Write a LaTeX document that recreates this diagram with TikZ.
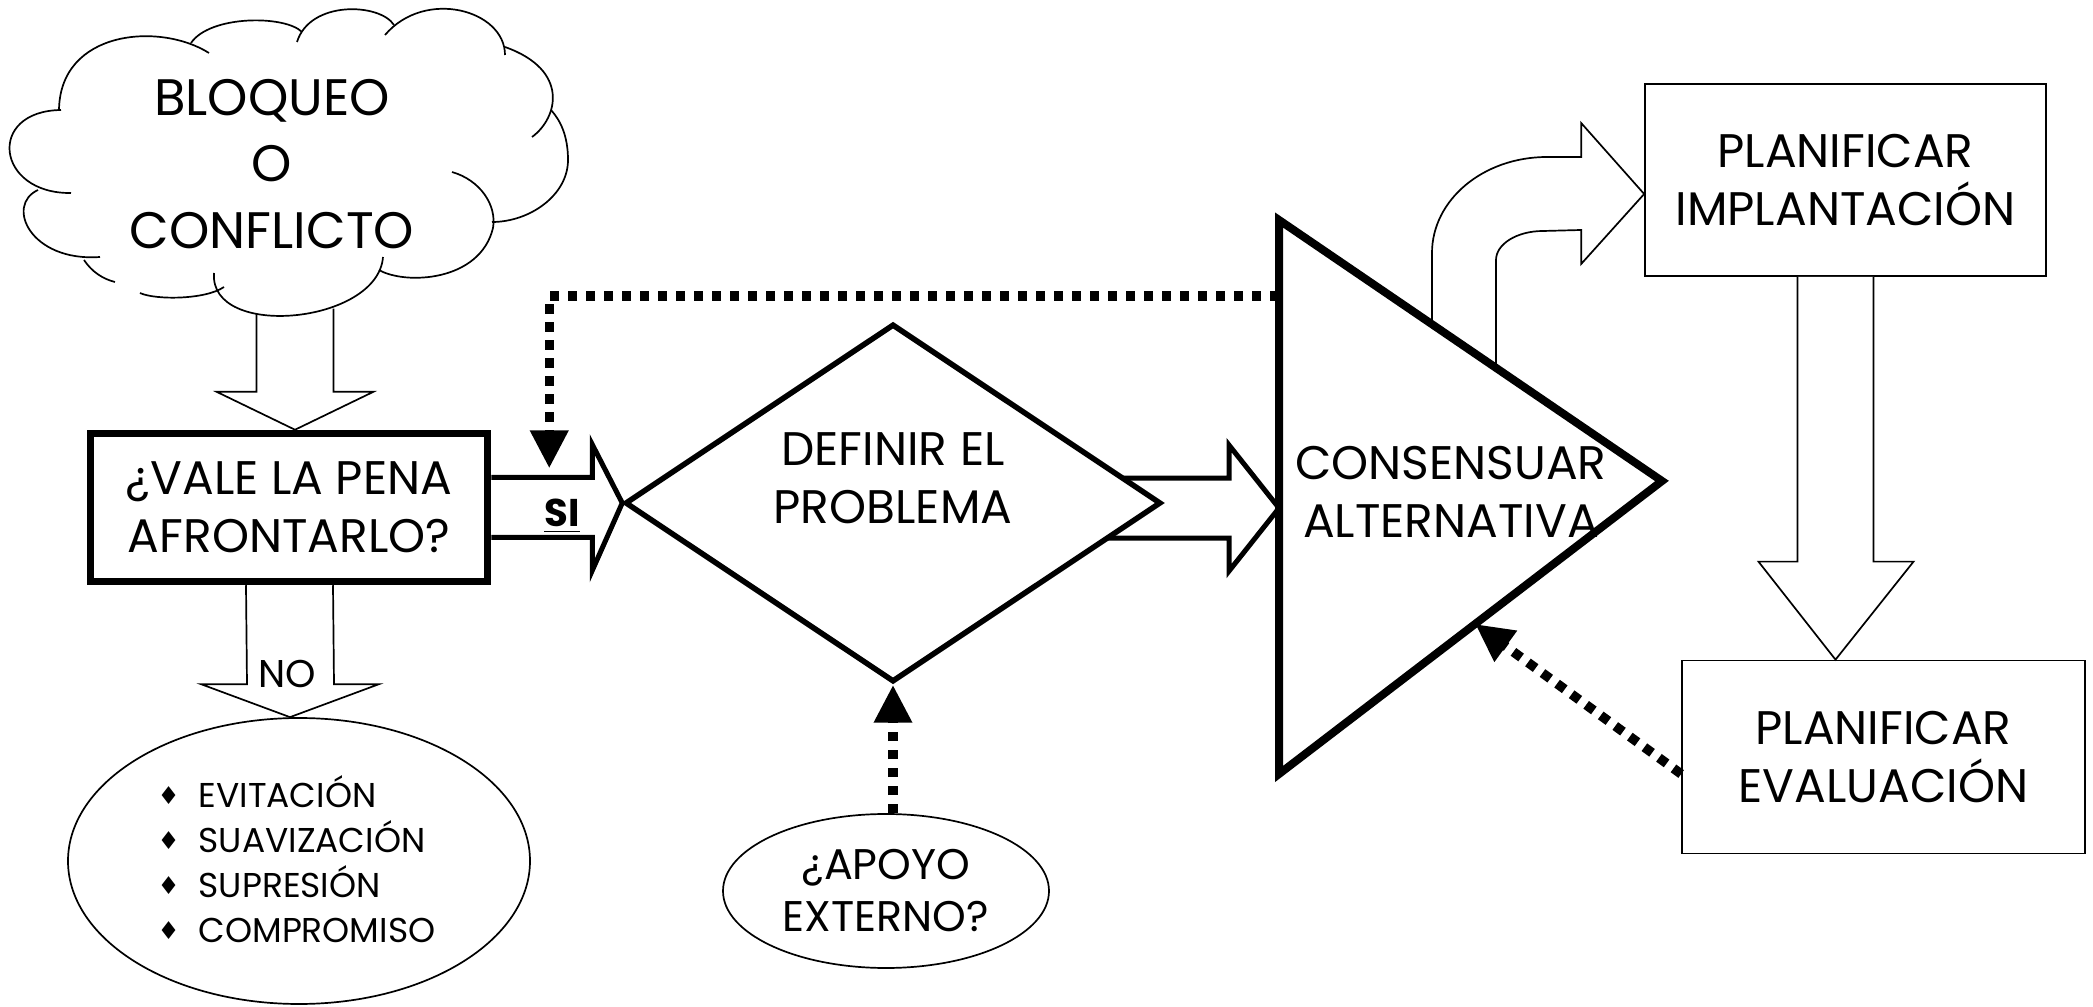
\documentclass[tikz,border=0pt]{standalone}
\usepackage{fontspec}
\setmainfont{Poppins}
\newfontfamily\symfont{DejaVu Sans}
\usetikzlibrary{shapes.geometric,arrows.meta,calc,backgrounds}
\newcommand\listbul{\makebox[4.1mm][l]{\raisebox{0.15ex}{\symfont\fontsize{7}{8}\selectfont ♦}}}
\begin{document}
\begin{tikzpicture}[x=0.1mm,y=-0.1mm,
  thinline/.style={line width=0.17mm},
  thickarrow/.style={line width=0.5mm, line join=miter},
  mainfont/.style={font=\fontsize{13.4}{16.4}\selectfont},
  plainbox/.style={draw, thinline, fill=white, inner sep=0, align=center, mainfont},
  dotarrow/.style={line width=0.95mm, dash pattern=on 0.95mm off 0.85mm,
    -{Triangle[length=3.8mm,width=3.6mm]}}
]
\useasboundingbox (0,0) rectangle (2093,1007);

% decision box
\node[draw, line width=0.75mm, fill=white, minimum width=39.7mm, minimum height=14.8mm,
      inner sep=0, align=center, mainfont] (vale) at (289,507.5) {¿VALE LA PENA\\AFRONTARLO?};

% cloud outline: overlapping puffs
\begin{scope}[thinline]
  \draw (209,53) .. controls (160,22) and (60,30) .. (59,110);
  \draw (61,110) .. controls (-14,111) and (-4,194) .. (71,193);
  \draw (38,190) .. controls (5,205) and (30,262) .. (100,257);
  \draw (84,260) .. controls (92,272) and (103,279) .. (115,282);
  \draw (140,293) .. controls (155,300) and (205,300) .. (224,287);
  \draw (214,273) .. controls (209,340) and (378,324) .. (383,257);
  \draw (379,270) .. controls (405,285) and (480,282) .. (493,228)
        .. controls (497,205) and (480,180) .. (452,172);
  \draw (492,222) .. controls (530,222) and (568,195) .. (568,160)
        .. controls (568,135) and (560,120) .. (551,110);
  \draw (505,47) .. controls (570,70) and (558,118) .. (532,137);
  \draw (505,55) .. controls (505,10) and (425,-12) .. (385,35);
  \draw (394,25) .. controls (380,3) and (310,0) .. (297,42);
  \draw (302,32) .. controls (285,15) and (210,15) .. (191,43);
\end{scope}
\node[align=center, font=\fontsize{14.6}{19}\selectfont] (cloudtext) at (272,164) {BLOQUEO\\O\\CONFLICTO};

% diamond
\node[diamond, draw, line width=0.55mm, fill=white, minimum width=53.6mm, minimum height=35.8mm,
      inner sep=0, aspect=1.5] (defin) at (893,503) {};
\node[align=center, mainfont] (defintext) at (893,478) {DEFINIR EL\\PROBLEMA};

% triangle
\coordinate (tA) at (1279,220);
\coordinate (tB) at (1279,774);
\coordinate (tC) at (1662,481);
\coordinate (tin) at ($(tA)!0.52!(tB)$);
\draw[line width=0.8mm, fill=white, line join=miter] (tA) -- (tC) -- (tB) -- cycle;
\node[align=center, mainfont] (cons) at (1451,492) {CONSENSUAR\\ALTERNATIVA};

% right boxes
\node[plainbox, minimum width=40.1mm, minimum height=19.2mm] (implant) at (1845.5,180) {PLANIFICAR\\IMPLANTACIÓN};
\node[plainbox, minimum width=40.3mm, minimum height=19.3mm] (evalbox) at (1883.5,757) {PLANIFICAR\\EVALUACIÓN};

% ellipses
\node[ellipse, draw, thinline, fill=white, minimum width=46.2mm, minimum height=28.6mm, inner sep=0] (opts) at (299,861) {};
\node[anchor=west, inner sep=0, align=left, font=\fontsize{9.8}{12.8}\selectfont] (optlist) at (157,859)
  {\listbul EVITACIÓN\\\listbul SUAVIZACIÓN\\\listbul SUPRESIÓN\\\listbul COMPROMISO};
\node[ellipse, draw, thinline, fill=white, minimum width=32.6mm, minimum height=15.4mm, inner sep=0,
      align=center, font=\fontsize{12.2}{14.8}\selectfont] (apoyo) at (886,891) {¿APOYO\\EXTERNO?};

\begin{scope}[on background layer]
  % diamond -> triangle
  \draw[thickarrow] ($(defin.east |- tin)+(-80,-30)$) -- ($(tin)+(-50,-30)$) -- ($(tin)+(-50,-63)$)
    -- (tin) -- ($(tin)+(-50,63)$) -- ($(tin)+(-50,30)$) -- ($(defin.east |- tin)+(-80,30)$);
  % triangle -> implementation (bent)
  \coordinate (imptip) at ($(implant.west)+(0,14)$);
  \draw[thinline, fill=white] (1432,430) -- (1432,253) .. controls (1432,200) and (1483,157) .. (1547,157)
    -- ($(imptip)+(-63,-37)$) -- ($(imptip)+(-63,-71)$) -- (imptip) -- ($(imptip)+(-63,70)$)
    -- ($(imptip)+(-63,36)$) -- (1543,231) .. controls (1517,231) and (1496,244) .. (1496,260) -- (1496,430);
\end{scope}

% cloud -> decision
\coordinate (cloudtip) at ($(vale.north)+(6,0)$);
\draw[thinline] ($(cloudtip)+(-38.5,-116)$) -- ($(cloudtip)+(-38.5,-38)$) -- ($(cloudtip)+(-78.5,-38)$)
  -- (cloudtip) -- ($(cloudtip)+(78.5,-38)$) -- ($(cloudtip)+(38.5,-38)$) -- ($(cloudtip)+(38.5,-121)$);

% decision -> diamond (SI)
\draw[thickarrow] ($(vale.east)+(0,-30)$) -- ($(vale.east)+(101,-30)$) -- ($(vale.east)+(101,-63)$)
  -- (defin.west) -- ($(vale.east)+(101,63)$) -- ($(vale.east)+(101,30)$) -- ($(vale.east)+(0,30)$);
\node[font=\bfseries\fontsize{11}{13}\selectfont, inner sep=0] (si) at (562,516) {\underline{SI}};

% decision -> options (NO)
\coordinate (optop) at ($(vale.south |- opts.north)+(1,0)$);
\draw[thinline] ($(vale.south)+(-43,0)$) -- ($(optop)+(-43,-33)$) -- ($(optop)+(-89,-33)$)
  -- (optop) -- ($(optop)+(89,-33)$) -- ($(optop)+(44,-33)$) -- ($(vale.south)+(44,0)$);
\node[font=\fontsize{11}{13}\selectfont, inner sep=0] (notext) at (287,674) {NO};

% implementation -> evaluation
\coordinate (evtop) at ($(evalbox.north)+(-48,0)$);
\draw[thinline, fill=white] ($(evtop |- implant.south)+(-38,0)$) -- ($(evtop)+(-38,-98)$)
  -- ($(evtop)+(-77,-98)$) -- (evtop) -- ($(evtop)+(78,-98)$) -- ($(evtop)+(38,-98)$)
  -- ($(evtop |- implant.south)+(38,0)$);

% dotted feedback arrows
\coordinate (sitop) at ($(vale.east)+(58,-39)$);
\draw[dotarrow] ($(tA)!0.137!(tB)$) -| (sitop);
\draw[dotarrow] (defin.south |- apoyo.north) -- (defin.south);
\draw[dotarrow] ($(evalbox.west)+(0,17)$) -- ($(tB)!0.512!(tC)$);
\end{tikzpicture}
\end{document}
